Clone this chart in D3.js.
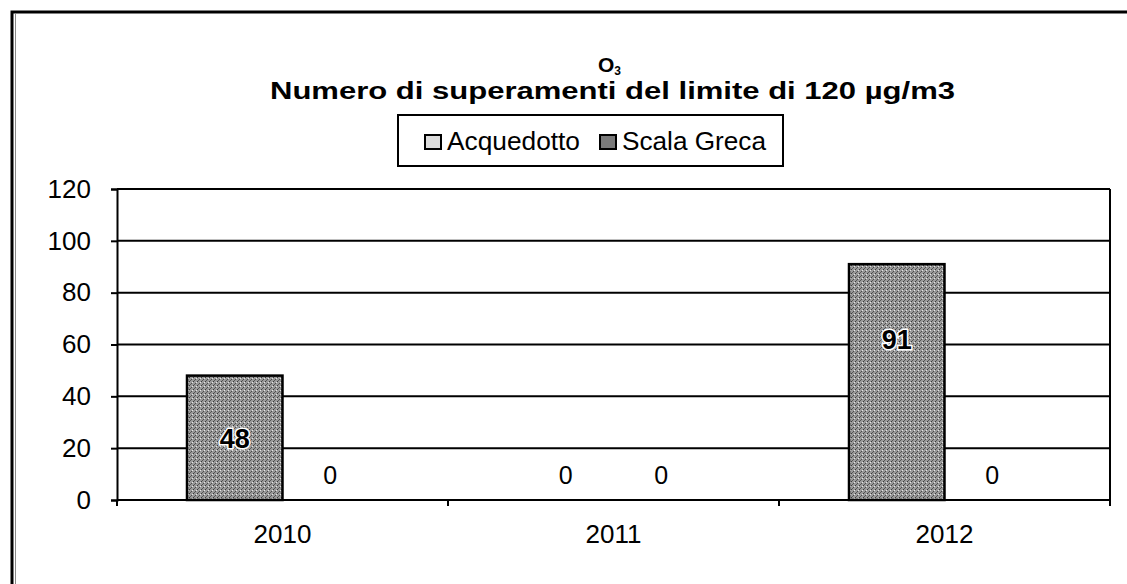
<!DOCTYPE html>
<html lang="it">
<head>
<meta charset="utf-8">
<title>O3 superamenti</title>
<script src="https://d3js.org/d3.v7.min.js"></script>
<style>
  body { margin: 0; background: #fff; }
  text { font-family: "Liberation Sans", Arial, sans-serif; fill: #000; }
  .axis path, .axis line { stroke: #000; stroke-width: 2; }
  .axis text { font-size: 26px; font-family: "Liberation Sans", Arial, sans-serif; }
  .grid line { stroke: #000; stroke-width: 2; }
</style>
</head>
<body>
<script>
var years = ['2010', '2011', '2012'];
var seriesNames = ['Acquedotto', 'Scala Greca'];
var acquedotto = [48, 0, 91];
var scalaGreca = [0, 0, 0];
var yTicks = [0, 20, 40, 60, 80, 100, 120];

var w = 1127, h = 584;
var margin = {top: 189, right: 17, bottom: 84, left: 117};
var innerW = w - margin.left - margin.right,
    innerH = h - margin.top - margin.bottom;

var svg = d3.select('body').append('svg')
    .attr('width', w)
    .attr('height', h);

// stippled gray fills, like the scanned bars
var defs = svg.append('defs');
var pat = defs.append('pattern').attr('id', 'dots')
    .attr('width', 4).attr('height', 4).attr('patternUnits', 'userSpaceOnUse');
pat.append('rect').attr('width', 4).attr('height', 4).attr('fill', '#9a9a9a');
pat.append('rect').attr('x', 0).attr('y', 0).attr('width', 1).attr('height', 1).attr('fill', '#3a3a3a');
pat.append('rect').attr('x', 2).attr('y', 2).attr('width', 1).attr('height', 1).attr('fill', '#4a4a4a');
pat.append('rect').attr('x', 1).attr('y', 3).attr('width', 1).attr('height', 1).attr('fill', '#5a5a5a');
pat.append('rect').attr('x', 3).attr('y', 1).attr('width', 1).attr('height', 1).attr('fill', '#e6e6e6');

// outer chart frame (runs off the right and bottom)
svg.append('path')
    .attr('d', 'M12,' + (h + 5) + 'V12H' + (w + 5))
    .attr('fill', 'none').attr('stroke', '#000').attr('stroke-width', 3);
svg.append('line').attr('x1', 15.5).attr('x2', 15.5).attr('y1', 14).attr('y2', h)
    .attr('stroke', '#888').attr('stroke-width', 1);

// title
var o3 = svg.append('text')
    .attr('x', 598).attr('y', 72)
    .attr('font-size', 21).attr('font-weight', 'bold');
o3.append('tspan').text('O');
o3.append('tspan').attr('dy', 3).attr('font-size', 12).text('3');
svg.append('text')
    .attr('x', 270).attr('y', 99)
    .attr('textLength', 685).attr('lengthAdjust', 'spacingAndGlyphs')
    .attr('font-size', 23).attr('font-weight', 'bold')
    .text('Numero di superamenti del limite di 120 \u00b5g/m3');

// legend
var legend = svg.append('g').attr('transform', 'translate(398,115)');
legend.append('rect')
    .attr('width', 385).attr('height', 51)
    .attr('fill', '#fff').attr('stroke', '#000').attr('stroke-width', 2);
var legX = [27, 202];
var legW = [133, 144];
var legFill = ['#dcdcdc', '#7a7a7a'];
seriesNames.forEach(function(name, i) {
  legend.append('rect')
      .attr('x', legX[i]).attr('y', 20).attr('width', 16).attr('height', 14)
      .attr('fill', legFill[i]).attr('stroke', '#000').attr('stroke-width', 2);
  legend.append('text')
      .attr('x', legX[i] + 22).attr('y', 35)
      .attr('textLength', legW[i]).attr('lengthAdjust', 'spacingAndGlyphs')
      .attr('font-size', 25)
      .text(name);
});

var g = svg.append('g')
    .attr('transform', 'translate(' + margin.left + ',' + margin.top + ')');

var x = d3.scaleBand().domain(years).range([0, innerW]).paddingInner(0).paddingOuter(0);
var x1 = d3.scaleBand().domain(seriesNames).range([70, x.bandwidth() - 70]);
var y = d3.scaleLinear().domain([0, 120]).range([innerH, 0]);

// gridlines
g.append('g').attr('class', 'grid')
  .selectAll('line').data(yTicks.slice(1))
  .enter().append('line')
    .attr('x1', 0).attr('x2', innerW)
    .attr('y1', function(d) { return y(d); })
    .attr('y2', function(d) { return y(d); });

// right border of plot area
g.append('line')
    .attr('x1', innerW).attr('x2', innerW)
    .attr('y1', 0).attr('y2', innerH)
    .attr('stroke', '#000').attr('stroke-width', 2);

var table = years.map(function(yr, i) {
  return {year: yr, values: [
    {name: seriesNames[0], v: acquedotto[i]},
    {name: seriesNames[1], v: scalaGreca[i]}
  ]};
});

var groups = g.selectAll('.yr').data(table)
  .enter().append('g').attr('class', 'yr')
    .attr('transform', function(d) { return 'translate(' + x(d.year) + ',0)'; });

groups.selectAll('rect').data(function(d) { return d.values.filter(function(p) { return p.v > 0; }); })
  .enter().append('rect')
    .attr('x', function(d) { return x1(d.name); })
    .attr('y', function(d) { return y(d.v); })
    .attr('width', x1.bandwidth())
    .attr('height', function(d) { return innerH - y(d.v); })
    .attr('fill', 'url(#dots)')
    .attr('stroke', '#000').attr('stroke-width', 2.5);

groups.selectAll('text.lbl').data(function(d) { return d.values; })
  .enter().append('text')
    .attr('class', 'lbl')
    .attr('x', function(d) { return x1(d.name) + x1.bandwidth() / 2; })
    .attr('y', function(d) {
      if (d.v === 0) return innerH - 25;
      return y(d.v) + Math.min((innerH - y(d.v)) / 2, 75);
    })
    .attr('dy', '0.36em')
    .attr('text-anchor', 'middle')
    .style('font-size', function(d) { return d.v > 0 ? '27px' : '25px'; })
    .style('font-weight', function(d) { return d.v > 0 ? 'bold' : 'normal'; })
    .style('paint-order', 'stroke')
    .style('stroke', function(d) { return d.v > 0 ? '#fff' : 'none'; })
    .style('stroke-width', 3)
    .text(function(d) { return d.v; });

// axes
g.append('g').attr('class', 'axis')
    .call(d3.axisLeft(y).tickValues(yTicks).tickSize(6).tickPadding(20));

var xAxis = g.append('g').attr('class', 'axis')
    .attr('transform', 'translate(0,' + innerH + ')')
    .call(d3.axisBottom(x).tickSize(0).tickPadding(25));
xAxis.select('.domain').attr('d', 'M0,0H' + innerW);
xAxis.selectAll('.sep').data(d3.range(years.length + 1))
  .enter().append('line').attr('class', 'sep')
    .attr('x1', function(i) { return i * x.bandwidth(); })
    .attr('x2', function(i) { return i * x.bandwidth(); })
    .attr('y1', 0).attr('y2', 6);
</script>
</body>
</html>
